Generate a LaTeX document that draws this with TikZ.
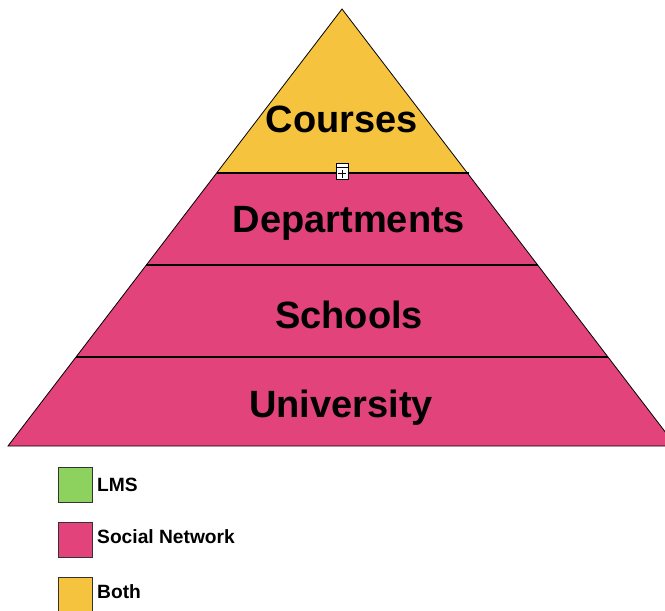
\documentclass[tikz,border=0pt]{standalone}
\usepackage{fontspec}
\setmainfont{Liberation Sans}
\usetikzlibrary{calc, positioning}

\definecolor{bothyellow}{HTML}{F5C33E}
\definecolor{socialpink}{HTML}{E1437A}
\definecolor{lmsgreen}{HTML}{8DD15F}

\begin{document}
\begin{tikzpicture}[
  x=1pt, y=-1pt,
  layer/.style={draw=black, line width=0.8pt, line join=miter},
  divider/.style={draw=black, line width=2.6pt},
  tier/.style={font=\fontsize{38}{42}\selectfont\bfseries, anchor=base, inner sep=0pt},
  swatch/.style={draw=black!80, line width=1pt, minimum width=34pt, minimum height=35pt, inner sep=0pt, anchor=north west},
  legend/.style={font=\fontsize{19.2}{23}\selectfont\bfseries, anchor=base west, inner sep=0pt}
]
\useasboundingbox (0,0) rectangle (665,611);
\clip (0,0) rectangle (665,611);

% pyramid corners
\coordinate (apex) at (342,9);
\coordinate (bl) at (8,446);
\coordinate (br) at (676,446);
\coordinate (l1) at ($(apex)!0.3753!(bl)$);
\coordinate (r1) at ($(apex)!0.3753!(br)$);
\coordinate (l2) at ($(apex)!0.5858!(bl)$);
\coordinate (r2) at ($(apex)!0.5858!(br)$);
\coordinate (l3) at ($(apex)!0.7963!(bl)$);
\coordinate (r3) at ($(apex)!0.7963!(br)$);

% layers
\fill[socialpink] (l1) -- (r1) -- (br) -- (bl) -- cycle;
\fill[bothyellow] (apex) -- (r1) -- (l1) -- cycle;
\draw[layer] (apex) -- (br) -- (bl) -- cycle;
\draw[divider] (l1) -- ($(r1)+(2,0)$);
\draw[divider] (l2) -- (r2);
\draw[divider] (l3) -- (r3);

% tier labels
\node[tier] (courses) at (342,132) {Courses};
\node[tier] (departments) at (349,232) {Departments};
\node[tier] (schools) at (349,328) {Schools};
\node[tier] (university) at (341,417) {University};

% handle on top divider
\node[draw, fill=white, line width=0.6pt, minimum width=12pt, minimum height=16pt, inner sep=0pt] (handle) at (342,171.5) {};
\draw[line width=0.6pt] ($(handle.north west)+(0,4)$) -- ($(handle.north east)+(0,4)$);
\draw[line width=0.7pt] ($(handle.center)+(-4,2)$) -- ($(handle.center)+(4,2)$);
\draw[line width=0.7pt] ($(handle.center)+(0,-2)$) -- ($(handle.center)+(0,6)$);

% legend
\node[swatch, fill=lmsgreen] (lmsbox) at (58,467) {};
\node[swatch, fill=socialpink] (socialbox) at (58,522) {};
\node[swatch, fill=bothyellow] (bothbox) at (58,577) {};
\node[legend] (lmstext) at (97,491) {LMS};
\node[legend] (socialtext) at (97,543) {Social Network};
\node[legend] (bothtext) at (97,598) {Both};
\end{tikzpicture}
\end{document}
